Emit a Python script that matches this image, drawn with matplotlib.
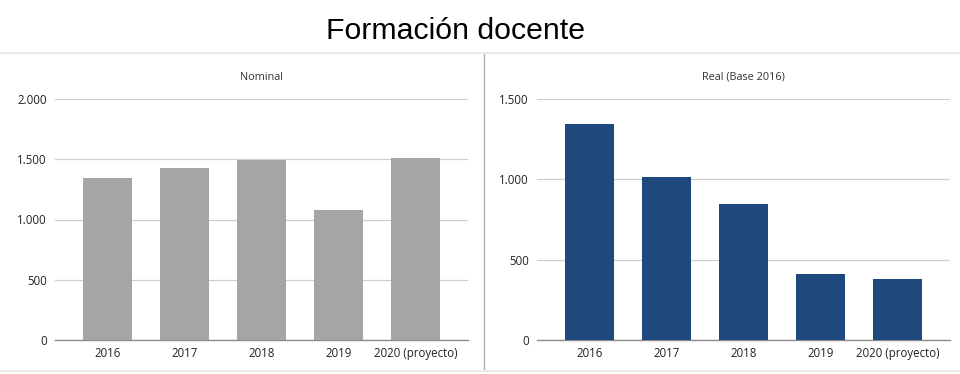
import numpy as np
import matplotlib.pyplot as plt
from matplotlib.ticker import FuncFormatter

# Datos
years = ["2016", "2017", "2018", "2019", "2020 (proyecto)"]
nominal = [1342, 1425, 1496, 1081, 1513]
real = [1346, 1012, 846, 413, 380]

GRAY_BAR = "#a5a5a5"
BLUE_BAR = "#1f497d"


def miles(v, pos):
    # separador de miles con punto
    return f"{int(v):,}".replace(",", ".")


def plot_panel(ax, values, color, title, ymax, step):
    x = np.arange(len(years))
    ax.bar(x, values, width=0.635, color=color, zorder=3)
    ax.set_xlim(-0.68, len(years) - 0.32)
    ax.set_ylim(0, ymax)
    ax.set_yticks(np.arange(0, ymax + 1, step))
    ax.yaxis.set_major_formatter(FuncFormatter(miles))
    ax.set_xticks(x)
    ax.set_xticklabels(years)
    ax.grid(axis="y", color="#d0d0d0", linewidth=0.9, zorder=0)
    for s in ["top", "right", "left"]:
        ax.spines[s].set_visible(False)
    ax.spines["bottom"].set_color("#8c8c8c")
    ax.spines["bottom"].set_linewidth(1.0)
    ax.tick_params(axis="both", length=0, labelsize=8.3, colors="#222222")
    ax.tick_params(axis="x", pad=5)
    ax.tick_params(axis="y", pad=6)
    ax.set_title(title, fontsize=7.8, color="#333333", pad=14)


plt.rcParams["font.family"] = ["Open Sans", "DejaVu Sans"]

fig = plt.figure(figsize=(9.6, 3.74), dpi=100)
fig.patch.set_facecolor("white")

# Paneles (coordenadas en fraccion de figura)
ax1 = fig.add_axes([55 / 960, 1 - 340 / 374, 413 / 960, 241 / 374])
ax2 = fig.add_axes([537 / 960, 1 - 340 / 374, 413 / 960, 241 / 374])

plot_panel(ax1, nominal, GRAY_BAR, "Nominal", 2000, 500)
plot_panel(ax2, real, BLUE_BAR, "Real (Base 2016)", 1500, 500)

# Separador vertical y bordes de los paneles
fig.add_artist(plt.Line2D([484 / 960, 484 / 960], [1 - 54 / 374, 1 - 370 / 374],
                          color="#b0b0b0", linewidth=1.0))
fig.add_artist(plt.Line2D([0, 1], [1 - 53 / 374, 1 - 53 / 374],
                          color="#ececec", linewidth=1.5))
fig.add_artist(plt.Line2D([0, 1], [1 - 371 / 374, 1 - 371 / 374],
                          color="#ececec", linewidth=1.5))

fig.text(455.5 / 960, 1 - 31 / 374, "Formación docente", ha="center", va="center",
         fontsize=21.8, family=["Liberation Sans", "DejaVu Sans"], color="black")

plt.savefig("out.png", dpi=100)
